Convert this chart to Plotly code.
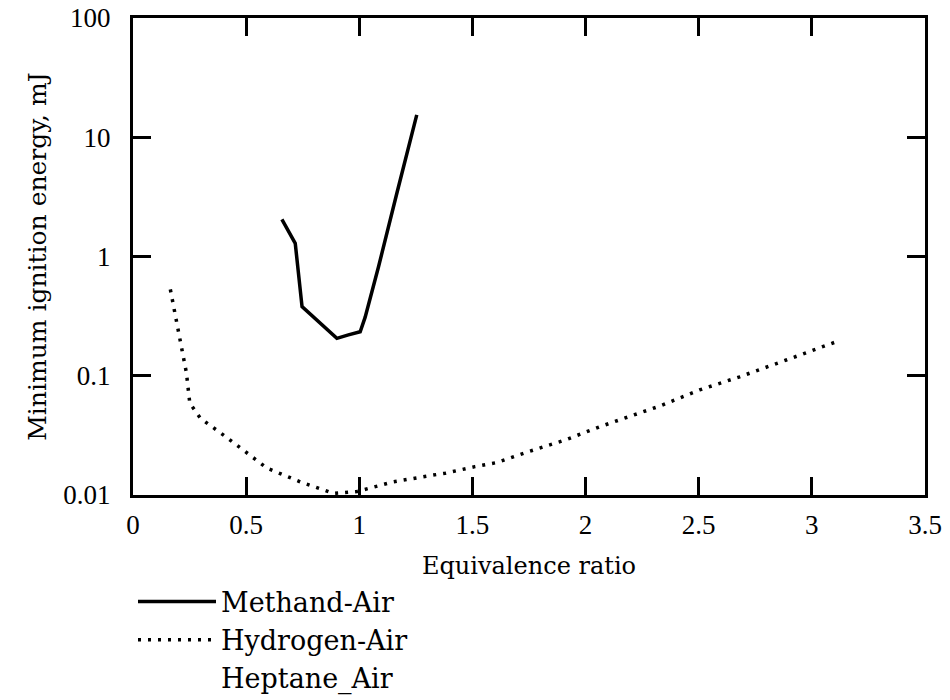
import plotly.graph_objects as go

# Methane-air minimum ignition energy (mJ) vs equivalence ratio
methane_phi = [0.658, 0.717, 0.747, 0.835, 0.901, 0.952, 1.004, 1.026, 1.085, 1.166, 1.254]
methane_mie = [2.05, 1.29, 0.38, 0.267, 0.206, 0.22, 0.234, 0.31, 0.82, 3.39, 15.4]

# Hydrogen-air
hydrogen_phi = [0.165, 0.21, 0.236, 0.251, 0.298, 0.408, 0.592, 0.739, 0.886, 0.99,
                1.151, 1.327, 1.379, 1.511, 1.607, 1.732, 1.82, 1.909, 2.063, 2.328,
                2.504, 2.681, 2.887, 3.108]
hydrogen_mie = [0.53, 0.2, 0.106, 0.0588, 0.044, 0.031, 0.0168, 0.0129, 0.0103, 0.0107,
                0.0129, 0.0147, 0.0152, 0.0173, 0.0187, 0.0226, 0.0254, 0.0289, 0.0374, 0.0557,
                0.076, 0.098, 0.1355, 0.193]

series_names = ["Methand-Air", "Hydrogen-Air", "Heptane_Air"]

x_tickvals = [0, 0.5, 1, 1.5, 2, 2.5, 3, 3.5]
x_ticktext = ["0", "0.5", "1", "1.5", "2", "2.5", "3", "3.5"]
y_tickvals = [0.01, 0.1, 1, 10, 100]
y_ticktext = ["0.01", "0.1", "1", "10", "100"]

fig = go.Figure()
fig.add_trace(go.Scatter(x=methane_phi, y=methane_mie, mode="lines", name=series_names[0],
                         line=dict(color="black", width=3.5)))
fig.add_trace(go.Scatter(x=hydrogen_phi, y=hydrogen_mie, mode="lines", name=series_names[1],
                         line=dict(color="black", width=3.5, dash="3px,7px")))
fig.add_trace(go.Scatter(x=[None], y=[None], mode="lines", name=series_names[2],
                         line=dict(color="rgba(0,0,0,0)", width=1)))

axis_common = dict(
    showline=True, linecolor="black", linewidth=3, mirror="ticks",
    ticks="inside", ticklen=18, tickwidth=3, tickcolor="black",
    showgrid=False, zeroline=False, automargin=False,
    tickfont=dict(family="Liberation Serif", size=27, color="black"),
)

fig.update_xaxes(range=[0, 3.5], tickvals=x_tickvals, ticktext=x_ticktext,
                 title=dict(text="Equivalence ratio", standoff=18,
                            font=dict(family="DejaVu Serif", size=24, color="black")),
                 ticklabelstandoff=4, **axis_common)
fig.update_yaxes(type="log", range=[-2, 2], tickvals=y_tickvals, ticktext=y_ticktext,
                 title=dict(text="Minimum ignition energy, mJ", standoff=10,
                            font=dict(family="DejaVu Serif", size=25, color="black")),
                 ticklabelstandoff=14, **axis_common)

fig.update_layout(
    width=950, height=700,
    margin=dict(l=133, r=25, t=18, b=205, autoexpand=False),
    plot_bgcolor="white", paper_bgcolor="white",
    showlegend=True,
    legend=dict(x=0.0, y=-0.173, xanchor="left", yanchor="top",
                font=dict(family="DejaVu Serif", size=27, color="black"),
                bgcolor="rgba(0,0,0,0)", itemwidth=78, tracegroupgap=0),
)

fig.write_html("out.html")
